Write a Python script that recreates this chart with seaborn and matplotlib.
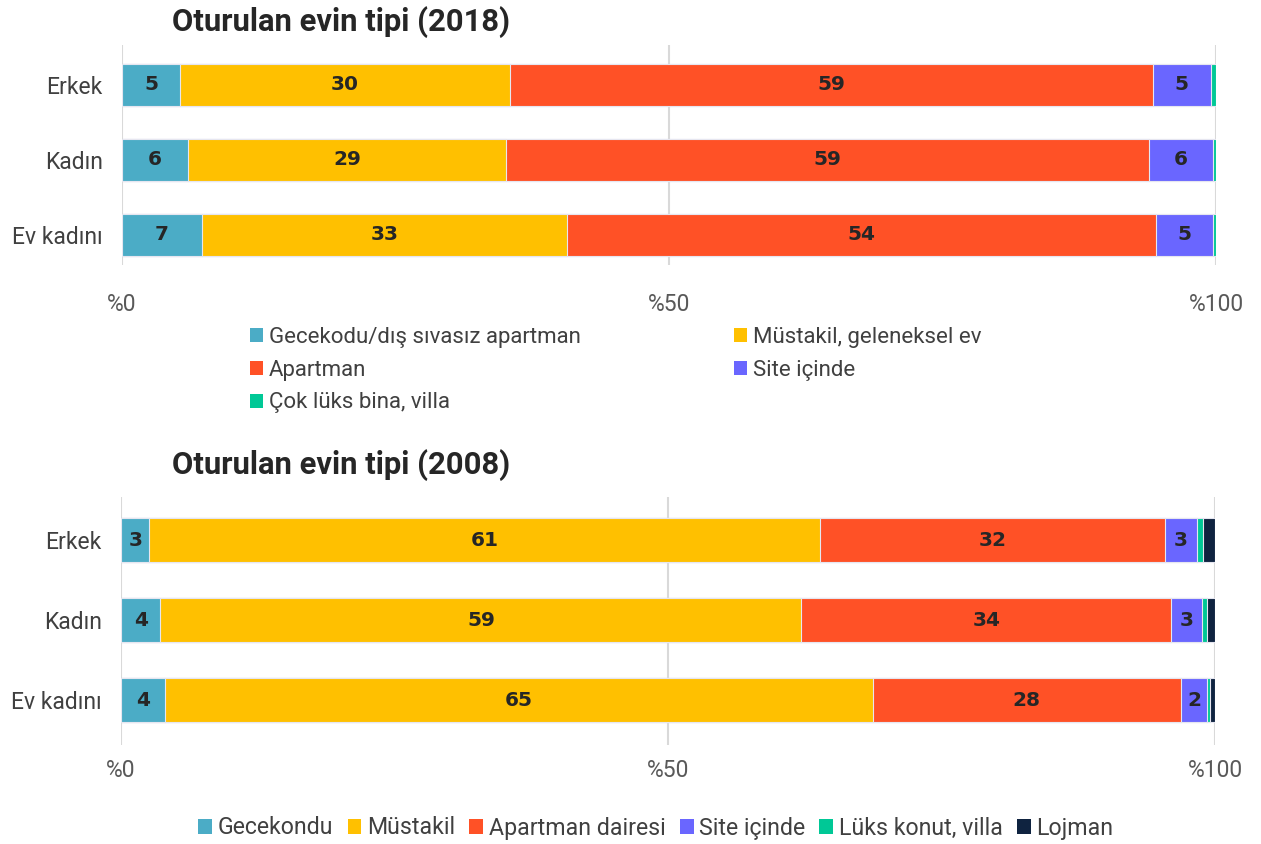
import numpy as np
import pandas as pd
import matplotlib
matplotlib.use("Agg")
import matplotlib.pyplot as plt
import seaborn as sns
from matplotlib.patches import Patch

groups = ["Erkek", "Kadın", "Ev kadını"]

cats_2018 = ["Gecekodu/dış sıvasız apartman", "Müstakil, geleneksel ev", "Apartman",
             "Site içinde", "Çok lüks bina, villa"]
vals_2018 = {
    "Gecekodu/dış sıvasız apartman": [5.3, 6.0, 7.3],
    "Müstakil, geleneksel ev": [30.2, 29.1, 33.4],
    "Apartman": [58.7, 58.8, 53.8],
    "Site içinde": [5.3, 5.8, 5.2],
    "Çok lüks bina, villa": [0.5, 0.3, 0.3],
}

cats_2008 = ["Gecekondu", "Müstakil", "Apartman dairesi", "Site içinde",
             "Lüks konut, villa", "Lojman"]
vals_2008 = {
    "Gecekondu": [2.6, 3.6, 4.0],
    "Müstakil": [61.3, 58.6, 64.7],
    "Apartman dairesi": [31.5, 33.8, 28.2],
    "Site içinde": [3.0, 2.8, 2.4],
    "Lüks konut, villa": [0.5, 0.5, 0.2],
    "Lojman": [1.1, 0.7, 0.5],
}

colors = ["#4BACC6", "#FFC000", "#FF5126", "#6A66FF", "#00C896", "#0F2340"]

xticks = [0, 50, 100]
xticklabels = ["%0", "%50", "%100"]

sns.set_theme(style="white")
plt.rcParams["font.family"] = ["Roboto", "DejaVu Sans"]

W, H = 1261, 844
fig = plt.figure(figsize=(W / 100, H / 100), dpi=100)


def draw(ax, cats, vals, bar_h, ylim, pad):
    df = pd.DataFrame(vals, index=groups)
    cum = df.cumsum(axis=1)
    for i in range(len(cats) - 1, -1, -1):
        c = cats[i]
        d = pd.DataFrame({"grp": groups, "val": cum[c].values})
        sns.barplot(data=d, y="grp", x="val", orient="h", color=colors[i],
                    saturation=1, width=bar_h, ax=ax, edgecolor="#E6E6F0",
                    linewidth=0.8, zorder=3)
    for gi, g in enumerate(groups):
        start = 0
        for c in cats:
            v = df.loc[g, c]
            if v >= 1.5:
                ax.text(start + v / 2, gi, f"{int(round(v))}", ha="center", va="center",
                        fontsize=14.5, fontweight="heavy", color="#262626",
                        family="DejaVu Sans", zorder=5)
            start += v
    ax.set_xlim(0, 100)
    ax.set_ylim(*ylim)
    ax.set_xticks(xticks)
    ax.set_xticklabels(xticklabels, fontsize=16.5, color="#595959")
    ax.tick_params(axis="x", length=0, pad=pad)
    ax.tick_params(axis="y", length=0, pad=14, labelsize=16.5, labelcolor="#404040")
    ax.set_xlabel("")
    ax.set_ylabel("")
    for s in ax.spines.values():
        s.set_visible(False)
    ax.grid(axis="x", color="#D9D9D9", linewidth=1.5, zorder=0)
    ax.set_axisbelow(True)


ax1 = fig.add_axes([122 / W, 1 - 265 / H, (1216 - 122) / W, 220 / H])
draw(ax1, cats_2018, vals_2018, 0.56, (2.4, -0.533), 20)

ax2 = fig.add_axes([121 / W, 1 - 745 / H, (1215 - 121) / W, 248 / H])
draw(ax2, cats_2008, vals_2008, 0.55, (2.5625, -0.5375), 10)

fig.text(172 / W, 1 - 22 / H, "Oturulan evin tipi (2018)", fontsize=22.3, fontweight="bold",
         color="#262626", va="center", ha="left")
fig.text(172 / W, 1 - 465 / H, "Oturulan evin tipi (2008)", fontsize=22.3, fontweight="bold",
         color="#262626", va="center", ha="left")

order1 = [0, 2, 4, 1, 3]
h1 = [Patch(facecolor=colors[i], edgecolor="none") for i in order1]
l1 = [cats_2018[i] for i in order1]
leg1 = fig.legend(h1, l1, loc="upper left", bbox_to_anchor=(241 / W, 1 - 318 / H),
                  ncol=2, frameon=False, fontsize=16, handlelength=0.6, handleheight=0.6,
                  handletextpad=0.25, columnspacing=6.9, labelspacing=0.53,
                  labelcolor="#404040", borderaxespad=0)

h2 = [Patch(facecolor=colors[i], edgecolor="none") for i in range(6)]
leg2 = fig.legend(h2, cats_2008, loc="center", bbox_to_anchor=(656 / W, 1 - 828 / H),
                  ncol=6, frameon=False, fontsize=16.7, handlelength=0.6, handleheight=0.6,
                  handletextpad=0.25, columnspacing=0.6, labelcolor="#404040")

fig.savefig("out.png", dpi=100)
